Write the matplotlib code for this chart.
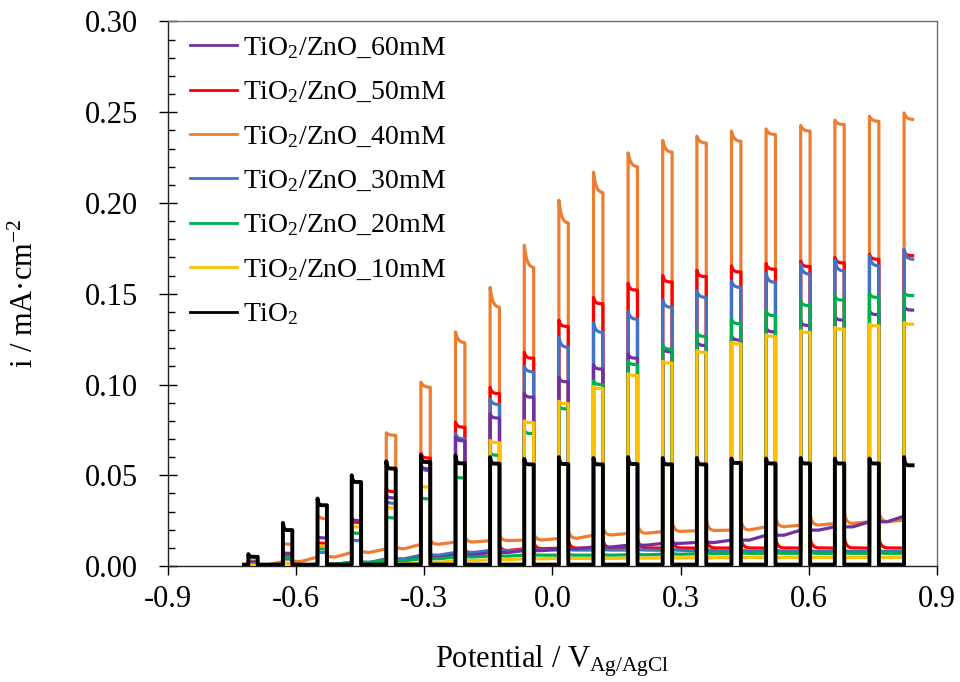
import numpy as np
import matplotlib
matplotlib.use("Agg")
import matplotlib.pyplot as plt
from matplotlib.ticker import MultipleLocator, FormatStrFormatter

plt.rcParams["font.family"] = ["Liberation Serif", "DejaVu Serif"]
plt.rcParams["mathtext.fontset"] = "custom"
plt.rcParams["mathtext.rm"] = "Liberation Serif"
plt.rcParams["mathtext.it"] = "Liberation Serif:italic"
plt.rcParams["axes.unicode_minus"] = False

# Potential (V vs Ag/AgCl) where the light is switched on
light_on = [-0.712, -0.631, -0.550, -0.470, -0.389, -0.308, -0.227, -0.146, -0.066, 0.015,
            0.096, 0.177, 0.258, 0.338, 0.419, 0.500, 0.581, 0.661, 0.742, 0.823]
scan_start = -0.722
scan_end = 0.843

# Photocurrent spike right after switching on, current just before switching off,
# and dark current before each light pulse (mA/cm2)
peak_60 = [0.0024, 0.0073, 0.0161, 0.0262, 0.039, 0.0555, 0.071, 0.0839, 0.0952, 0.104,
           0.111, 0.1168, 0.1205, 0.124, 0.1269, 0.1315, 0.1348, 0.1379, 0.1407, 0.1434]
steady_60 = [0.0022, 0.007, 0.0155, 0.025, 0.0375, 0.0535, 0.069, 0.0815, 0.093, 0.1015,
             0.1085, 0.1145, 0.118, 0.1215, 0.1245, 0.129, 0.1325, 0.1355, 0.1385, 0.141]
dark_60 = [0.0, 0.0003, 0.001, 0.002, 0.003, 0.0045, 0.006, 0.0075, 0.0085, 0.0095,
           0.0105, 0.0115, 0.0125, 0.013, 0.0143, 0.017, 0.0198, 0.0216, 0.0244, 0.0275]

peak_50 = [0.002, 0.006, 0.013, 0.025, 0.0427, 0.062, 0.0793, 0.0985, 0.1178, 0.1355,
           0.148, 0.1557, 0.160, 0.163, 0.1654, 0.1667, 0.168, 0.170, 0.1718, 0.1736]
steady_50 = [0.002, 0.0058, 0.0125, 0.024, 0.041, 0.0595, 0.0765, 0.095, 0.1145, 0.132,
             0.1445, 0.152, 0.1565, 0.1595, 0.162, 0.1635, 0.165, 0.167, 0.169, 0.171]
dark_50 = [0.0, 0.0002, 0.0005, 0.001, 0.003, 0.005, 0.007, 0.0085, 0.0095, 0.0098,
           0.0099, 0.0099, 0.0099, 0.0099, 0.0099, 0.0099, 0.0099, 0.0099, 0.0099, 0.0099]

peak_40 = [0.003, 0.0125, 0.028, 0.048, 0.0734, 0.1013, 0.129, 0.1535, 0.1767, 0.2015,
           0.217, 0.2276, 0.2345, 0.2368, 0.2396, 0.2408, 0.2427, 0.2456, 0.2478, 0.2496]
steady_40 = [0.0028, 0.012, 0.026, 0.046, 0.072, 0.0985, 0.123, 0.1425, 0.1645, 0.189,
             0.2057, 0.220, 0.228, 0.233, 0.234, 0.2377, 0.2396, 0.2432, 0.245, 0.246]
dark_40 = [0.0005, 0.0025, 0.005, 0.0075, 0.0095, 0.012, 0.0132, 0.014, 0.0143, 0.0152,
           0.017, 0.018, 0.019, 0.0195, 0.0198, 0.0216, 0.0225, 0.0234, 0.0244, 0.0253]

peak_30 = [0.001, 0.004, 0.008, 0.0147, 0.036, 0.055, 0.0729, 0.092, 0.110, 0.126,
           0.134, 0.1403, 0.1465, 0.1516, 0.157, 0.1612, 0.1663, 0.1685, 0.1709, 0.1745]
steady_30 = [0.001, 0.0038, 0.0075, 0.014, 0.0345, 0.0525, 0.070, 0.089, 0.107, 0.1205,
             0.1287, 0.136, 0.1425, 0.148, 0.1535, 0.1563, 0.1608, 0.1626, 0.1654, 0.169]
dark_30 = [0.0, 0.0005, 0.001, 0.002, 0.004, 0.006, 0.0075, 0.0085, 0.0088, 0.0088,
           0.0088, 0.0088, 0.0087, 0.0085, 0.0083, 0.0082, 0.008, 0.008, 0.008, 0.008]

peak_20 = [0.001, 0.0051, 0.010, 0.0189, 0.0275, 0.038, 0.050, 0.0628, 0.0747, 0.0885,
           0.102, 0.113, 0.122, 0.1288, 0.136, 0.1407, 0.1462, 0.1489, 0.1502, 0.1507]
steady_20 = [0.001, 0.005, 0.0095, 0.018, 0.0265, 0.037, 0.0485, 0.061, 0.073, 0.0865,
             0.100, 0.111, 0.1195, 0.1265, 0.1335, 0.138, 0.1435, 0.1465, 0.148, 0.149]
dark_20 = [0.0, 0.0003, 0.001, 0.002, 0.003, 0.004, 0.005, 0.0055, 0.006, 0.006,
           0.006, 0.0062, 0.0065, 0.0068, 0.007, 0.007, 0.007, 0.007, 0.007, 0.007]

peak_10 = [0.0005, 0.0016, 0.0115, 0.0222, 0.033, 0.0445, 0.0573, 0.0692, 0.080, 0.0908,
           0.0989, 0.106, 0.1128, 0.1187, 0.1233, 0.1275, 0.1297, 0.1315, 0.1333, 0.1342]
steady_10 = [0.0005, 0.0015, 0.011, 0.0215, 0.032, 0.0435, 0.0563, 0.068, 0.079, 0.0895,
             0.0978, 0.105, 0.1118, 0.1177, 0.1223, 0.1265, 0.1287, 0.1305, 0.1323, 0.1332]
dark_10 = [0.0, 0.0, 0.0, 0.0005, 0.001, 0.002, 0.003, 0.0035, 0.004, 0.0042,
           0.0042, 0.0044, 0.0045, 0.0046, 0.0048, 0.0048, 0.0048, 0.0048, 0.0048, 0.0048]

peak_tio2 = [0.0066, 0.0238, 0.0372, 0.050, 0.0577, 0.061, 0.061, 0.060, 0.059, 0.060,
             0.0595, 0.060, 0.0595, 0.0595, 0.0592, 0.0592, 0.0595, 0.0592, 0.0592, 0.060]
steady_tio2 = [0.0051, 0.0198, 0.0335, 0.0463, 0.0537, 0.0573, 0.0566, 0.0564, 0.056, 0.0562,
               0.056, 0.0562, 0.056, 0.056, 0.0568, 0.0565, 0.0565, 0.0565, 0.0565, 0.0555]
dark_tio2 = [0.0008] * 20

ON_WIDTH = 0.022   # light-on duration expressed in potential
TAIL_LEN = 0.02


def chopped_trace(peak, steady, dark, tau, tail_frac):
    """Build the chopped-light LSV polyline from the per-pulse values."""
    xs = [scan_start]
    ys = [dark[0]]
    t_tail = np.linspace(0, TAIL_LEN, 10)
    for k, x0 in enumerate(light_on):
        width = min(ON_WIDTH, scan_end - x0)
        t = np.linspace(0, width, 14)
        shape = (np.exp(-t / tau) - np.exp(-ON_WIDTH / tau)) / (1 - np.exp(-ON_WIDTH / tau))
        xs.append(x0)
        ys.append(dark[k])
        xs.extend(x0 + t)
        ys.extend(steady[k] + (peak[k] - steady[k]) * shape)
        if x0 + ON_WIDTH >= scan_end:
            break
        amp = tail_frac * (steady[k] - dark[k])
        xs.extend(x0 + ON_WIDTH + t_tail)
        ys.extend(dark[k] + amp * np.exp(-t_tail / 0.005))
    return np.array(xs), np.array(ys)


series = [
    ("TiO$_\\mathregular{2}$/ZnO_60mM", peak_60, steady_60, dark_60, "#7030A0", 0.004, 0.0, 5),
    ("TiO$_\\mathregular{2}$/ZnO_50mM", peak_50, steady_50, dark_50, "#FF0000", 0.004, 0.035, 3),
    ("TiO$_\\mathregular{2}$/ZnO_40mM", peak_40, steady_40, dark_40, "#ED7D31", 0.006, 0.026, 2),
    ("TiO$_\\mathregular{2}$/ZnO_30mM", peak_30, steady_30, dark_30, "#4472C4", 0.005, 0.005, 4),
    ("TiO$_\\mathregular{2}$/ZnO_20mM", peak_20, steady_20, dark_20, "#00B050", 0.004, 0.005, 6),
    ("TiO$_\\mathregular{2}$/ZnO_10mM", peak_10, steady_10, dark_10, "#FFC000", 0.004, 0.0, 7),
    ("TiO$_\\mathregular{2}$", peak_tio2, steady_tio2, dark_tio2, "#000000", 0.002, 0.0, 8),
]

fig = plt.figure(figsize=(9.6, 6.82), dpi=100)
ax = fig.add_axes([0.175, 0.170, 0.801, 0.7985])

for label, pk, st, dk, color, tau, tail, z in series:
    x, y = chopped_trace(pk, st, dk, tau, tail)
    lw = 2.8 if color == "#000000" else 2.3
    ax.plot(x, y, color=color, lw=lw, label=label, zorder=z, solid_joinstyle="round")

ax.set_xlim(-0.9, 0.9)
ax.set_ylim(0.0, 0.30)
ax.xaxis.set_major_locator(MultipleLocator(0.3))
ax.xaxis.set_major_formatter(FormatStrFormatter("%.1f"))
ax.yaxis.set_major_locator(MultipleLocator(0.05))
ax.yaxis.set_minor_locator(MultipleLocator(0.01))
ax.yaxis.set_major_formatter(FormatStrFormatter("%.2f"))

ax.tick_params(axis="x", which="major", direction="out", length=6.5, width=1.0,
               labelsize=22, pad=7, top=False)
ax.tick_params(axis="y", which="major", direction="inout", length=13, width=1.0,
               labelsize=22, pad=15, right=False)
ax.tick_params(axis="y", which="minor", direction="in", length=5, width=1.0, right=False)

for side in ["left", "bottom"]:
    ax.spines[side].set_color("#202020")
    ax.spines[side].set_linewidth(1.0)
for side in ["top", "right"]:
    ax.spines[side].set_color("#6d6d6d")
    ax.spines[side].set_linewidth(1.0)

ax.set_xlabel("Potential / V$_\\mathregular{Ag/AgCl}$", fontsize=22)
ax.xaxis.set_label_coords(0.5, -0.142)
ax.set_ylabel("i / mA\u00b7cm$^\\mathregular{-2}$", fontsize=22)
ax.yaxis.set_label_coords(-0.166, 0.5)

leg = ax.legend(loc="upper left", bbox_to_anchor=(0.0286, 0.975), frameon=False,
                fontsize=20, handlelength=1.7, handletextpad=0.2, labelspacing=0.67,
                borderpad=0, borderaxespad=0)
for h in leg.get_lines():
    h.set_linewidth(2.0)

fig.savefig("out.png", dpi=100)
